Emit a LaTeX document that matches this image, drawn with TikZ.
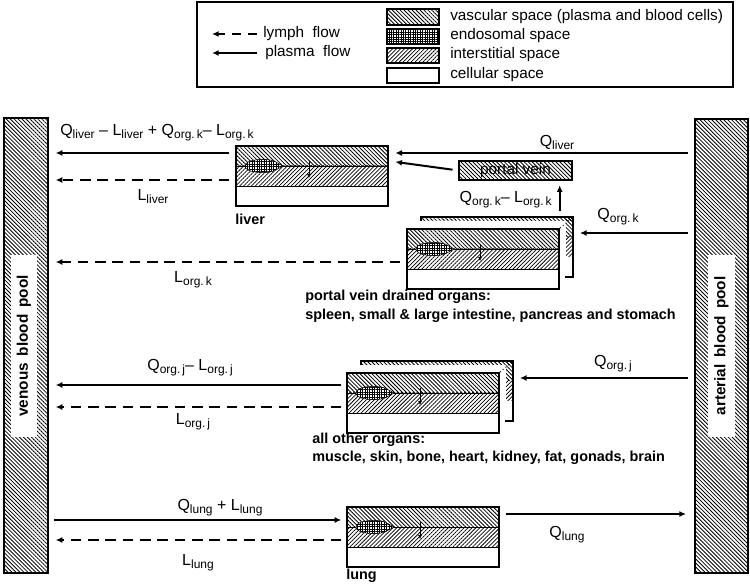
\documentclass[tikz,border=0pt]{standalone}
\usepackage{fontspec}
\setmainfont{Liberation Sans}
\usetikzlibrary{patterns.meta,arrows.meta,fit}
\tikzset{
 vasc/.style={pattern={Lines[angle=-45,distance=2.1pt,line width=0.62pt]}},
 inter/.style={pattern={Lines[angle=45,distance=2.1pt,line width=0.55pt]}},
 endo/.style={preaction={fill=white},pattern={Hatch[angle=0,distance=1.8pt,line width=0.4pt]}},
 plasma/.style={line width=1.5pt,-{Latex[length=5pt,width=4.5pt]}},
 lymph/.style={plasma,dash pattern=on 8pt off 5pt},
 gap/.style={shorten <=4.5pt,shorten >=5pt},
 lbl/.style={font=\fontsize{12}{14}\selectfont,inner sep=0pt},
 lgd/.style={font=\fontsize{11.5}{13}\selectfont,inner sep=0pt,anchor=west},
 olbl/.style={font=\bfseries\fontsize{10.8}{13}\selectfont,inner sep=0pt,anchor=west},
 box/.style={draw,line width=1pt,inner sep=0pt},
 swatch/.style={draw,line width=0.8pt,inner sep=0pt},
 poollbl/.style={fill=white,rotate=90,inner sep=0pt,minimum width=137pt,minimum height=19.5pt,font=\bfseries\fontsize{11.5}{14}\selectfont},
}
\newcommand\lo[1]{\raisebox{-0.35ex}{\fontsize{9}{10}\selectfont #1}}
\newcommand\organcard[3]{%
 \path[vasc] (#2,#3) rectangle ++(152,20);
 \path[inter] (#2,#3+20) rectangle ++(152,20);
 \fill[white] (#2,#3+40) rectangle ++(152,20);
 \draw[line width=0.4pt] (#2,#3+20) -- ++(152,0);
 \draw[line width=0.7pt] (#2,#3+40) -- ++(152,0);
 \path[endo,draw,line width=0.4pt] (#2+9,#3+20) .. controls (#2+9,#3+13) and (#2+30,#3+12) .. (#2+38,#3+15) -- (#2+47,#3+20) -- (#2+38,#3+25) .. controls (#2+30,#3+28) and (#2+9,#3+27) .. cycle;
 \draw[line width=0.5pt,-{Latex[length=3pt,width=3pt]}] (#2+73,#3+15) -- ++(0,17);
 \node[box,fit={(#2,#3) (#2+152,#3+60)}] (#1) {};
}
\newcommand\orgback[3]{%
 \path[vasc] (#2+14,#3-12) rectangle (#2+166,#3-8);
 \path[vasc] (#2+159,#3-12) rectangle (#2+166,#3+8);
 \path[inter] (#2+159,#3+8) rectangle (#2+166,#3+28);
 \draw[line width=0.9pt] (#2+14,#3-8) -- (#2+14,#3-12) -- (#2+166,#3-12) -- (#2+166,#3+48) -- (#2+158,#3+48);
 \draw[dotted,line width=0.7pt] (#2+153,#3-1) -- (#2+165,#3-11);
 \node[inner sep=0pt,fit={(#2+14,#3-12) (#2+166,#3+48)}] (#1) {};
}
\begin{document}
\begin{tikzpicture}[x=0.75pt,y=-0.75pt]
\useasboundingbox (0,0) rectangle (750,584);
% legend
\node[draw,line width=1.5pt,inner sep=0pt,fit={(197,2) (733,87)}] (legend) {};
\coordinate (lgA1) at (257,34); \coordinate (lgB1) at (212,34);
\coordinate (lgA2) at (257,53); \coordinate (lgB2) at (212,53);
\draw[lymph,dash pattern=on 7pt off 5pt] (lgA1) -- (lgB1);
\draw[plasma] (lgA2) -- (lgB2);
\node[lgd] (tlymph) at (263,34) {lymph\ \ flow};
\node[lgd] (tplasma) at (265,53) {plasma\ \ flow};
\node[swatch,vasc,fit={(387,9) (439,25)}] (sw1) {};
\node[swatch,endo,fit={(387,29) (439,44)}] (sw2) {};
\node[swatch,inter,fit={(387,48) (439,63)}] (sw3) {};
\node[swatch,fit={(387,68) (439,83)}] (sw4) {};
\node[lgd] (ts1) at (450,17) {vascular space (plasma and blood cells)};
\node[lgd] (ts2) at (450,36) {endosomal space};
\node[lgd] (ts3) at (450,55) {interstitial space};
\node[lgd] (ts4) at (450,75) {cellular space};
% pools
\node[draw,line width=1.5pt,inner sep=0pt,vasc,fit={(4,118) (48,573)}] (venous) {};
\node[poollbl] (venlbl) at (24,346) {venous\ \,blood\ \,pool};
\node[draw,line width=1.5pt,inner sep=0pt,vasc,fit={(695,119) (748,573)}] (arterial) {};
\node[poollbl,minimum height=20pt] (artlbl) at (721.5,346) {arterial\ \,blood\ \,pool};
% organs
\organcard{liver}{236}{146}
\node[olbl] (tliver) at (235,219) {liver};
\orgback{orgkback}{407}{229}
\organcard{orgk}{407}{229}
\node[olbl] (tk1) at (305,297) {portal vein drained organs:};
\node[olbl] (tk2) at (305,316) {spleen, small \& large intestine, pancreas and stomach};
\orgback{orgjback}{347}{373}
\organcard{orgj}{347}{373}
\node[olbl] (tj1) at (312,440) {all other organs:};
\node[olbl] (tj2) at (312,458) {muscle, skin, bone, heart, kidney, fat, gonads, brain};
\organcard{lung}{347}{507}
\node[olbl] (tlung) at (346,576) {lung};
% portal vein
\node[draw,line width=0.8pt,inner sep=0pt,vasc,fit={(459,161) (572,180)}] (portal) {};
\node[font=\fontsize{11.5}{13}\selectfont,text=black,inner sep=0pt] (tportal) at (portal.center) {portal vein};
% liver connectors
\draw[plasma,gap] (liver.west |- 0,153) -- (venous.east |- 0,153);
\draw[lymph,gap] (liver.west |- 0,180) -- (venous.east |- 0,180);
\draw[plasma,gap] (arterial.west |- 0,153) -- (liver.east |- 0,153);
\draw[plasma,gap] (portal.west) -- (liver.east |- 0,161);
\draw[plasma,shorten >=3.5pt] (orgk.north east |- 0,211) -- (orgk.north east |- portal.south);
\node[lbl] (lq1) at (157,133) {Q\lo{liver} -- L\lo{liver} + Q\lo{org.\,k}-- L\lo{org.\,k}};
\node[lbl] (lq2) at (153,197) {L\lo{liver}};
\node[lbl] (lq3) at (557,142) {Q\lo{liver}};
\node[lbl,anchor=east] (lq4) at (552,200) {Q\lo{org.\,k}-- L\lo{org.\,k}};
% organ k
\draw[plasma,gap] (arterial.west |- 0,233) -- (orgkback.east |- 0,233);
\draw[lymph,gap] (orgk.west |- 0,262) -- (venous.east |- 0,262);
\node[lbl] (lk1) at (618,217) {Q\lo{org.\,k}};
\node[lbl] (lk2) at (193,280) {L\lo{org.\,k}};
% organ j
\draw[plasma,gap] (arterial.west |- 0,378) -- (orgjback.east |- 0,378);
\draw[plasma,shorten <=3.75pt,shorten >=5pt] (orgj.west |- 0,385) -- (venous.east |- 0,385);
\draw[lymph,shorten <=3.75pt,shorten >=5pt] (orgj.west |- 0,407) -- (venous.east |- 0,407);
\node[lbl] (lj1) at (613,364) {Q\lo{org.\,j}};
\node[lbl] (lj2) at (190,368) {Q\lo{org.\,j}-- L\lo{org.\,j}};
\node[lbl] (lj3) at (193,422) {L\lo{org.\,j}};
% lung
\draw[plasma,shorten <=3.75pt,shorten >=3.75pt] (venous.east |- 0,520) -- (lung.west |- 0,520);
\draw[lymph,shorten <=3.75pt,shorten >=5pt] (lung.west |- 0,540) -- (venous.east |- 0,540);
\draw[plasma,shorten <=4.5pt,shorten >=6pt] (lung.east |- 0,514) -- (arterial.west |- 0,514);
\node[lbl] (ll1) at (220,508) {Q\lo{lung} + L\lo{lung}};
\node[lbl] (ll2) at (198,563) {L\lo{lung}};
\node[lbl] (ll3) at (567,535) {Q\lo{lung}};
\end{tikzpicture}
\end{document}
